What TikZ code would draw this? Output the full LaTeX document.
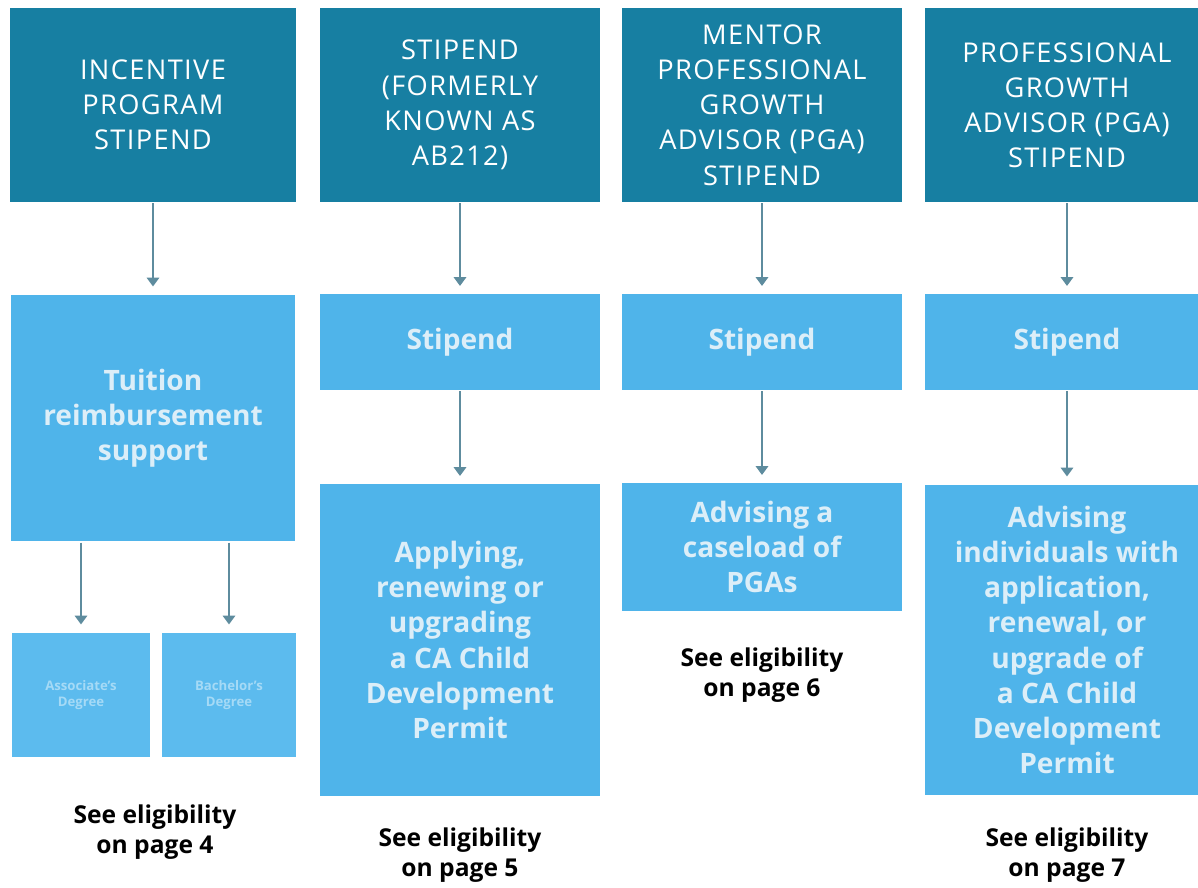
\documentclass[tikz,border=0pt]{standalone}
\usepackage{fontspec}
\setmainfont{Open Sans}
\newfontfamily\capsfont[LetterSpace=5]{Open Sans}
\usetikzlibrary{arrows.meta}

\definecolor{topteal}{HTML}{177FA2}
\definecolor{skyblue}{HTML}{4FB4EA}
\definecolor{paleblue}{HTML}{5CBBEE}
\definecolor{softwhite}{HTML}{DCEEF8}
\definecolor{arrowgray}{HTML}{5E8C9E}

\tikzset{
  topbox/.style={fill=topteal, text=white, align=center, inner sep=0pt,
    minimum height=3.88cm, font=\capsfont\fontsize{15.5}{20}\selectfont},
  lightbox/.style={fill=skyblue, text=softwhite, align=center, inner sep=0pt,
    font=\bfseries\fontsize{16}{20}\selectfont},
  degbox/.style={fill=paleblue, text=white!45!paleblue, align=center, inner sep=0pt,
    minimum height=2.5cm, font=\bfseries\fontsize{7.5}{9}\selectfont},
  seenote/.style={align=center, text=black,
    font=\bfseries\fontsize{14}{17}\selectfont},
}

\begin{document}
\begin{tikzpicture}[x=0.02cm, y=-0.02cm, >={Triangle[length=5pt,width=7pt]},
  arrowgray, line width=1.2pt]
  \useasboundingbox (0,0) rectangle (1198,888);
  \clip (0,0) rectangle (1198,888);

  % headers
  \node[topbox, minimum width=5.72cm] (t1) at (153,105)
    {INCENTIVE\\PROGRAM\\STIPEND};
  \node[topbox, minimum width=5.6cm] (t2) at (460,105)
    {STIPEND\\(FORMERLY\\KNOWN AS\\AB212)};
  \node[topbox, minimum width=5.6cm] (t3) at (762,105)
    {MENTOR\\PROFESSIONAL\\GROWTH\\ADVISOR (PGA)\\STIPEND};
  \node[topbox, minimum width=5.68cm] (t4) at (1067,105)
    {PROFESSIONAL\\GROWTH\\ADVISOR (PGA)\\STIPEND};

  % second row
  \node[lightbox, minimum width=5.7cm, minimum height=4.94cm] (s1) at (153,418)
    {Tuition\\reimbursement\\support};
  \node[lightbox, minimum width=5.6cm, minimum height=1.92cm] (s2) at (460,342) {Stipend};
  \node[lightbox, minimum width=5.6cm, minimum height=1.92cm] (s3) at (762,342) {Stipend};
  \node[lightbox, minimum width=5.68cm, minimum height=1.92cm] (s4) at (1067,342) {Stipend};

  % third row
  \node[degbox, minimum width=2.76cm] (d1) at (81,695) {Associate's\\Degree};
  \node[degbox, minimum width=2.7cm] (d2) at (229,695) {Bachelor's\\Degree};
  \node[lightbox, minimum width=5.6cm, minimum height=6.24cm] (a2) at (460,640)
    {Applying,\\renewing or\\upgrading\\a CA Child\\Development\\Permit};
  \node[lightbox, minimum width=5.6cm, minimum height=2.56cm] (a3) at (762,547)
    {Advising a\\caseload of\\PGAs};
  \node[lightbox, minimum width=5.68cm, minimum height=6.22cm] (a4) at (1067,640)
    {Advising\\individuals with\\application,\\renewal, or\\upgrade of\\a CA Child\\Development\\Permit};

  % notes
  \node[seenote] (e1) at (155,832) {See eligibility\\on page 4};
  \node[seenote] (e2) at (460,855) {See eligibility\\on page 5};
  \node[seenote] (e3) at (762,675) {See eligibility\\on page 6};
  \node[seenote] (e4) at (1067,855) {See eligibility\\on page 7};

  \path[->, shorten >=0.14cm]
    (t1) edge (s1)
    (t2) edge (s2)
    (t3) edge (s3)
    (t4) edge (s4)
    (s2) edge (a2)
    (s3) edge (a3)
    (s4) edge (a4)
    (s1.south -| d1) edge (d1)
    (s1.south -| d2) edge (d2)
    ;
\end{tikzpicture}
\end{document}
